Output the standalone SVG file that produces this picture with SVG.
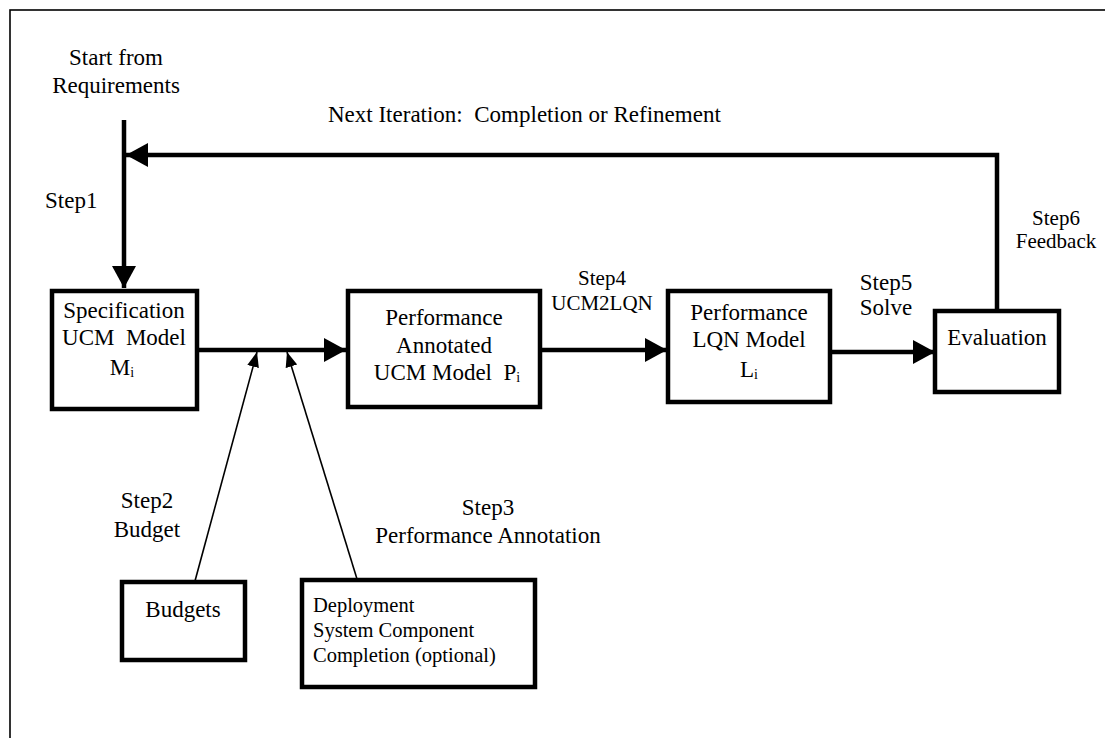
<svg xmlns="http://www.w3.org/2000/svg" width="1105" height="738" viewBox="0 0 1105 738">
  <style>
    text { fill: #000; white-space: pre; }
    .t23 { font-size: 23px; }
    .t21 { font-size: 21px; }
    .t20 { font-size: 20.5px; }
    .mid { text-anchor: middle; }
    .box { fill: #fff; stroke: #000; stroke-width: 4.5; }
    .thick { fill: none; stroke: #000; stroke-width: 4.5; }
    .thin { fill: none; stroke: #000; stroke-width: 1.6; }
    .frame { fill: none; stroke: #000; stroke-width: 1.6; }
  </style>
  <defs>
    <marker id="bigHead" markerUnits="userSpaceOnUse" markerWidth="24" markerHeight="26" refX="22" refY="12" orient="auto">
      <path d="M0,0 L22,12 L0,24 Z" fill="#000"/>
    </marker>
    <marker id="smallHead" markerUnits="userSpaceOnUse" markerWidth="16" markerHeight="14" refX="15" refY="6" orient="auto">
      <path d="M0,0 L15,6 L0,12 Z" fill="#000"/>
    </marker>
  </defs>

  <rect width="1105" height="738" fill="#fff"/>
  <rect class="frame" x="10" y="10" width="1120" height="760"/>

  <g font-family="'Liberation Serif', 'DejaVu Serif', serif" xml:space="preserve">
  <!-- free labels -->
  <g id="labels">
    <text class="t23 mid" x="116" y="65">Start from</text>
    <text class="t23 mid" x="116" y="93">Requirements</text>
    <text class="t23" x="328" y="122">Next Iteration:  Completion or Refinement</text>
    <text class="t23" x="45" y="208">Step1</text>
    <text class="t21 mid" x="602" y="285">Step4</text>
    <text class="t21 mid" x="602" y="310">UCM2LQN</text>
    <text class="t23 mid" x="886" y="290">Step5</text>
    <text class="t23 mid" x="886" y="315">Solve</text>
    <text class="t21 mid" x="1056" y="225">Step6</text>
    <text class="t21 mid" x="1056" y="248">Feedback</text>
    <text class="t23 mid" x="147" y="508">Step2</text>
    <text class="t23 mid" x="147" y="537">Budget</text>
    <text class="t23 mid" x="488" y="515">Step3</text>
    <text class="t23 mid" x="488" y="543">Performance Annotation</text>
  </g>

  <!-- connectors -->
  <g id="connectors">
    <line class="thick" x1="124" y1="120" x2="124" y2="288" marker-end="url(#bigHead)"/>
    <polyline class="thick" points="997,310 997,155 126,155" marker-end="url(#bigHead)"/>
    <line class="thick" x1="199" y1="350" x2="346" y2="350" marker-end="url(#bigHead)"/>
    <line class="thick" x1="540" y1="350" x2="667" y2="350" marker-end="url(#bigHead)"/>
    <line class="thick" x1="830" y1="352" x2="935" y2="352" marker-end="url(#bigHead)"/>
    <line class="thin" x1="195" y1="581" x2="257" y2="352" marker-end="url(#smallHead)"/>
    <line class="thin" x1="357" y1="579" x2="287" y2="352" marker-end="url(#smallHead)"/>
  </g>

  <g id="spec">
    <rect class="box" x="52" y="291" width="145" height="118"/>
    <text class="t23 mid" x="124" y="318">Specification</text>
    <text class="t23 mid" x="124" y="345">UCM  Model</text>
    <text class="t23 mid" x="122" y="375">M<tspan font-size="14" dy="2">i</tspan></text>
  </g>

  <g id="perfAnnotated">
    <rect class="box" x="348" y="291" width="192" height="116"/>
    <text class="t23 mid" x="444" y="325">Performance</text>
    <text class="t23 mid" x="444" y="353">Annotated</text>
    <text class="t23 mid" x="447" y="380">UCM Model  P<tspan font-size="14" dy="2">i</tspan></text>
  </g>

  <g id="lqn">
    <rect class="box" x="668" y="291" width="162" height="111"/>
    <text class="t23 mid" x="749" y="320">Performance</text>
    <text class="t23 mid" x="749" y="347">LQN Model</text>
    <text class="t23 mid" x="749" y="377">L<tspan font-size="14" dy="2">i</tspan></text>
  </g>

  <g id="evaluation">
    <rect class="box" x="935" y="311" width="124" height="81"/>
    <text class="t23 mid" x="997" y="345">Evaluation</text>
  </g>

  <g id="budgets">
    <rect class="box" x="122" y="582" width="123" height="78"/>
    <text class="t23 mid" x="183" y="617">Budgets</text>
  </g>

  <g id="deployment">
    <rect class="box" x="302" y="580" width="233" height="107"/>
    <text class="t20" x="313" y="612">Deployment</text>
    <text class="t20" x="313" y="637">System Component</text>
    <text class="t20" x="313" y="662">Completion (optional)</text>
  </g>
  </g>
</svg>
